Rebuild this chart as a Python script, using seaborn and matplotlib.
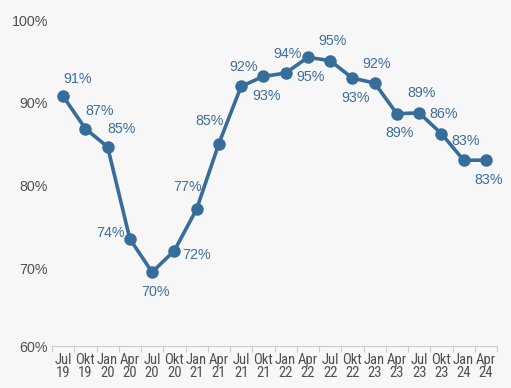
import matplotlib
matplotlib.use("Agg")
import matplotlib.pyplot as plt
from matplotlib import font_manager
import seaborn as sns
import pandas as pd
import numpy as np

months = ["Jul", "Okt", "Jan", "Apr", "Jul", "Okt", "Jan", "Apr", "Jul", "Okt",
          "Jan", "Apr", "Jul", "Okt", "Jan", "Apr", "Jul", "Okt", "Jan", "Apr"]
years = ["19", "19", "20", "20", "20", "20", "21", "21", "21", "21",
         "22", "22", "22", "22", "23", "23", "23", "23", "24", "24"]
values = [90.8, 86.9, 84.7, 73.6, 69.6, 72.2, 77.2, 85.1, 92.0, 93.2,
          93.6, 95.5, 95.1, 93.0, 92.4, 88.7, 88.8, 86.3, 83.1, 83.1]
labels = ["91%", "87%", "85%", "74%", "70%", "72%", "77%", "85%", "92%", "93%",
          "94%", "95%", "95%", "93%", "92%", "89%", "89%", "86%", "83%", "83%"]
placement = ["ar", "ar", "ar", "l", "b", "r", "al", "al", "a", "b",
             "a", "b", "a", "b", "a", "b", "a", "a", "a", "b"]

n = len(values)

# pick a condensed sans font if one is installed
entries = font_manager.fontManager.ttflist
names = {f.name for f in entries}
narrow = None
for cand in ["Liberation Sans Narrow", "Roboto Condensed", "Open Sans Condensed",
             "DejaVu Sans Condensed", "Noto Sans Condensed", "Arial Narrow"]:
    if cand in names:
        narrow = cand
        break
if narrow is None:
    for f in entries:
        if ("Narrow" in f.name or "Condensed" in f.name) and "Mono" not in f.name and "Serif" not in f.name:
            narrow = f.name
            break
x_font = [narrow, "Liberation Sans"] if narrow else ["Liberation Sans"]
x_size = 10.5 if narrow else 8.5

sns.set_theme(style="white")
plt.rcParams["font.family"] = ["Liberation Sans", "DejaVu Sans"]

bg = "#f7f7f7"
line_c = "#376d9b"
lab_c = "#3f6d9c"
tick_c = "#505050"

df = pd.DataFrame({"x": np.arange(n), "v": values})

fig = plt.figure(figsize=(5.11, 3.88), dpi=100, facecolor=bg)
ax = fig.add_axes([52/511, 1-346/388, 445/511, 326/388])
ax.set_facecolor(bg)

sns.lineplot(data=df, x="x", y="v", ax=ax, color=line_c, linewidth=2.6,
             marker="o", markersize=9, markeredgewidth=0, markeredgecolor=line_c)

# label centre offsets in pixels relative to the marker
offsets = {"ar": (14, 19), "a": (2, 21), "b": (3, -18), "l": (-19, 7),
           "r": (22, -3), "al": (-9, 24)}
for xi, v, t, p in zip(df["x"], values, labels, placement):
    dx, dy = offsets[p]
    ax.annotate(t, (xi, v), xytext=(dx, dy), textcoords="offset pixels",
                ha="center", va="center_baseline", color=lab_c, fontsize=10.3)

ax.set_xlim(-0.5, n - 0.5)
ax.set_ylim(60.7, 100)
ax.set_yticks([60.7, 70, 80, 90, 100])
ax.set_yticklabels(["60%", "70%", "80%", "90%", "100%"])
ax.set_xticks(np.arange(n))
ax.set_xticklabels([f"{m}\n{y}" for m, y in zip(months, years)],
                   fontfamily=x_font, fontsize=x_size, color=tick_c, linespacing=0.9)
ax.set_xticks(np.arange(n + 1) - 0.5, minor=True)
ax.tick_params(axis="x", which="major", length=0, pad=5)
ax.tick_params(axis="x", which="minor", length=4, width=0.8, color="#cccccc", bottom=True)
ax.tick_params(axis="y", length=0, pad=3, labelsize=10.3, labelcolor=tick_c)
ax.set_xlabel("")
ax.set_ylabel("")
for s in ["top", "right", "left"]:
    ax.spines[s].set_visible(False)
ax.spines["bottom"].set_color("#cccccc")
ax.spines["bottom"].set_linewidth(0.8)
ax.grid(False)

fig.savefig("out.png", dpi=100, facecolor=bg)
